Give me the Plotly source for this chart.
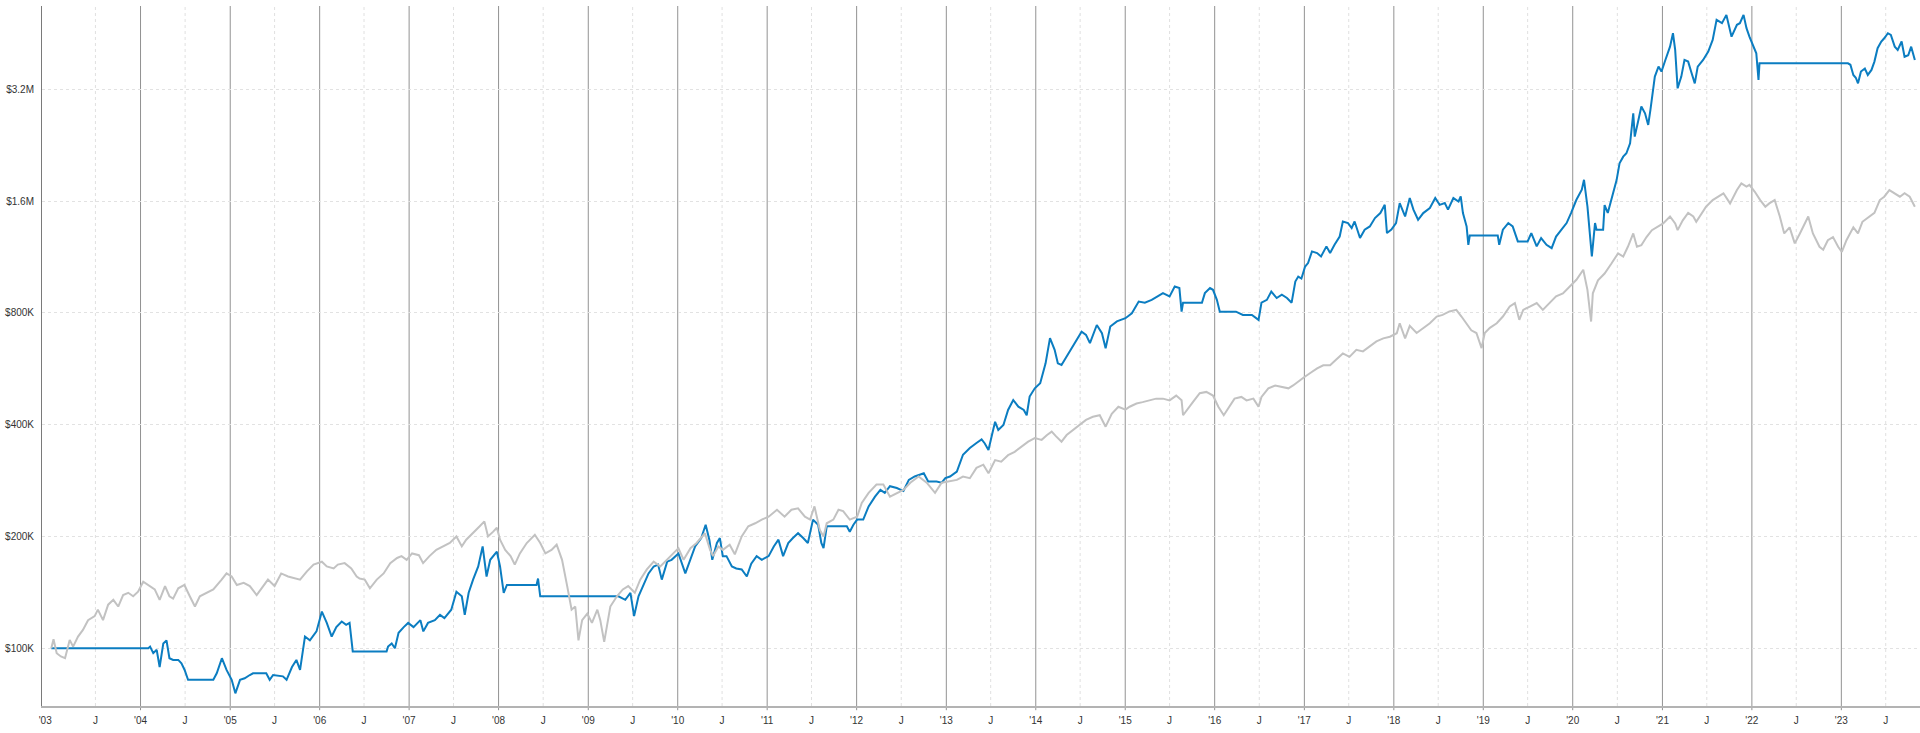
import plotly.graph_objects as go

# ---------------- data (values in thousands of dollars) ----------------
bench_dates = [
"2003-01-02","2003-01-11","2003-01-24","2003-02-10","2003-02-27","2003-03-18","2003-04-01","2003-04-21","2003-05-11","2003-06-01",
"2003-06-28","2003-07-11","2003-08-01","2003-08-22","2003-09-12","2003-10-02","2003-10-22","2003-11-12","2003-12-02","2003-12-22",
"2004-01-12","2004-02-10","2004-02-28","2004-03-19","2004-04-10","2004-04-28","2004-05-13","2004-06-03","2004-06-28","2004-07-20",
"2004-08-10","2004-08-30","2004-09-27","2004-10-24","2004-11-27","2004-12-17","2005-01-07","2005-01-28","2005-02-25","2005-03-22",
"2005-04-19","2005-05-14","2005-06-04","2005-07-01","2005-07-28","2005-08-25","2005-09-22","2005-10-13","2005-11-10","2005-12-07",
"2006-01-10","2006-01-30","2006-02-27","2006-03-16","2006-04-13","2006-05-10","2006-06-01","2006-06-13","2006-07-04","2006-07-25",
"2006-08-22","2006-09-19","2006-10-16","2006-11-13","2006-12-01","2006-12-22","2007-01-13","2007-02-10","2007-02-27","2007-03-25",
"2007-04-22","2007-05-19","2007-06-16","2007-07-13","2007-08-04","2007-08-22","2007-09-19","2007-10-16","2007-11-04","2007-11-19",
"2007-12-10","2007-12-25","2008-01-07","2008-01-28","2008-02-19","2008-03-07","2008-03-28","2008-04-25","2008-05-28","2008-06-19",
"2008-07-10","2008-08-04","2008-08-25","2008-09-16","2008-10-07","2008-10-25","2008-11-09","2008-11-22","2008-12-07","2008-12-28",
"2009-01-16","2009-02-07","2009-02-19","2009-03-07","2009-04-01","2009-04-28","2009-05-22","2009-06-13","2009-07-10","2009-08-01",
"2009-08-28","2009-09-25","2009-10-22","2009-11-19","2009-12-16","2010-01-04","2010-01-25","2010-02-22","2010-03-19","2010-04-22",
"2010-05-13","2010-05-25","2010-06-16","2010-07-04","2010-08-01","2010-08-22","2010-09-19","2010-10-16","2010-11-13","2010-12-10",
"2011-01-07","2011-02-10","2011-03-13","2011-04-10","2011-05-07","2011-06-04","2011-06-25","2011-07-13","2011-08-04","2011-08-19",
"2011-09-01","2011-09-28","2011-10-19","2011-11-07","2011-12-04","2012-01-03","2012-01-22","2012-02-19","2012-03-22","2012-04-19",
"2012-05-16","2012-06-13","2012-07-10","2012-08-07","2012-09-10","2012-10-13","2012-11-16","2012-12-13","2013-01-10","2013-02-13",
"2013-03-10","2013-04-07","2013-05-04","2013-06-01","2013-06-22","2013-07-19","2013-08-13","2013-09-10","2013-10-07","2013-11-04",
"2013-12-01","2013-12-28","2014-01-25","2014-02-16","2014-03-07","2014-03-25","2014-04-16","2014-05-07","2014-06-04","2014-07-01",
"2014-07-25","2014-08-22","2014-09-19","2014-10-13","2014-11-07","2014-12-04","2015-01-02","2015-01-19","2015-02-16","2015-03-13",
"2015-04-10","2015-05-07","2015-06-04","2015-07-01","2015-07-28","2015-08-19","2015-08-25","2015-09-16","2015-10-04","2015-11-01",
"2015-11-28","2015-12-25","2016-01-16","2016-02-07","2016-02-25","2016-03-22","2016-04-19","2016-05-10","2016-06-07","2016-06-28",
"2016-07-10","2016-08-07","2016-09-04","2016-10-01","2016-10-28","2016-11-16","2016-12-07","2016-12-28","2017-01-25","2017-02-22",
"2017-03-19","2017-04-16","2017-05-10","2017-06-07","2017-07-04","2017-08-01","2017-08-28","2017-09-25","2017-10-22","2017-11-19",
"2017-12-16","2018-01-13","2018-01-25","2018-02-16","2018-03-07","2018-04-04","2018-05-01","2018-05-28","2018-06-25","2018-07-19",
"2018-08-16","2018-09-13","2018-10-04","2018-10-25","2018-11-13","2018-12-04","2018-12-25","2019-01-07","2019-01-28","2019-02-25",
"2019-03-22","2019-04-19","2019-05-10","2019-05-28","2019-06-13","2019-07-10","2019-08-07","2019-09-01","2019-09-28","2019-10-25",
"2019-11-22","2019-12-19","2020-01-16","2020-02-13","2020-03-01","2020-03-16","2020-03-23","2020-04-13","2020-05-10","2020-06-07",
"2020-07-04","2020-07-25","2020-08-13","2020-09-04","2020-09-19","2020-10-07","2020-10-28","2020-11-19","2020-12-07","2021-01-04",
"2021-02-01","2021-02-22","2021-03-04","2021-03-25","2021-04-16","2021-05-07","2021-05-19","2021-06-10","2021-06-28","2021-07-25",
"2021-08-16","2021-09-07","2021-10-04","2021-11-01","2021-11-19","2021-12-10","2021-12-22","2022-01-13","2022-02-04","2022-02-25",
"2022-03-13","2022-04-04","2022-04-25","2022-05-13","2022-06-04","2022-06-25","2022-07-16","2022-08-04","2022-08-19","2022-09-07",
"2022-10-04","2022-10-19","2022-11-07","2022-11-28","2022-12-19","2023-01-03","2023-01-22","2023-02-19","2023-03-10","2023-03-28",
"2023-04-25","2023-05-16","2023-06-07","2023-06-25","2023-07-16","2023-08-07","2023-08-28","2023-09-16","2023-10-07","2023-10-28",
]
bench_k = [
100,105.7,96.9,95,94,105.3,101,107.5,112,119,
122,127,119,131,135,129.5,139,141,138,142,
151,147,144,135,147,138,136,145,148,138,
129.5,138,141,144,153,159,156,148,150,147,
139,147,153,147,159,156,154.5,153,161,168,
171,166,164,168,169.5,164,156,154,153,145,
153,159,169.5,175,177,173,180,178,169.5,177,
184,188,192,200,188,196,204,213,219.5,200,
206,211,196,184,177,168,180,192,202,192,
180,184,190,173,147,127,129.5,105,119,124,
117,127,119,104,129.5,138,144,147,141,153,
163,171,166,173,180,186,173,186,192,204,
184,177,188,184,190,179,200,213,217,222,
226,236,226,236,238,226,222,241,208,200,
217,222,236,234,222,226,246,262,276,276,
256,262,267,279,290,279,262,279,281,284,
290,287,306,312,296,321,318,331,338,349,
360,368,364,375,383,372,360,375,387,399,
412,420,424,395,428,447,439,447,456,460,
465,470,470,465,479,465,424,442,460,486,
490,479,447,424,442,470,475,465,470,447,
475,501,510,505,501,510,521,535,551,567,
578,578,598,622,609,636,630,649,670,683,
690,705,750,683,738,706,729,750,782,790,
807,815,782,750,718,706,643,706,729,750,
782,832,850,766,815,832,850,815,850,886,
902,942,982,1045,923,758,903,979,1021,1086,
1157,1134,1205,1309,1205,1217,1280,1336,1359,1393,
1454,1393,1336,1420,1487,1454,1407,1487,1545,1610,
1644,1679,1577,1713,1786,1750,1769,1695,1610,1545,
1577,1610,1454,1309,1359,1231,1309,1393,1454,1309,
1205,1183,1255,1280,1205,1168,1255,1359,1309,1407,
1454,1487,1610,1644,1713,1679,1644,1679,1644,1545,
]

strat_dates = [
"2003-01-02","2004-02-02","2004-02-09","2004-02-22","2004-03-07","2004-03-19","2004-04-03","2004-04-16","2004-04-28","2004-05-13",
"2004-06-03","2004-06-16","2004-06-29","2004-07-13","2004-10-24","2004-11-07","2004-11-28","2004-12-17","2005-01-07","2005-01-22",
"2005-02-10","2005-03-01","2005-03-22","2005-04-04","2005-05-28","2005-06-11","2005-06-25","2005-08-04","2005-08-19","2005-09-10",
"2005-09-28","2005-10-13","2005-11-02","2005-11-22","2005-12-19","2006-01-10","2006-01-30","2006-02-19","2006-03-10","2006-04-01",
"2006-04-19","2006-05-03","2006-05-16","2006-10-01","2006-10-07","2006-10-22","2006-11-04","2006-11-19","2006-12-10","2006-12-28",
"2007-01-19","2007-02-16","2007-02-28","2007-03-19","2007-04-16","2007-05-07","2007-05-25","2007-06-22","2007-07-13","2007-08-04",
"2007-08-16","2007-09-01","2007-09-19","2007-10-10","2007-10-28","2007-11-13","2007-11-28","2007-12-10","2007-12-25","2008-01-07",
"2008-01-22","2008-02-04","2008-06-04","2008-06-10","2008-06-16","2008-06-19","2009-05-04","2009-06-01","2009-06-22","2009-07-07",
"2009-07-25","2009-08-13","2009-09-04","2009-09-25","2009-10-13","2009-10-28","2009-11-19","2009-12-07","2009-12-28","2010-01-04",
"2010-02-01","2010-02-22","2010-03-13","2010-04-07","2010-04-25","2010-05-10","2010-05-22","2010-06-10","2010-06-22","2010-07-04",
"2010-07-19","2010-08-10","2010-08-28","2010-09-19","2010-10-10","2010-10-28","2010-11-19","2010-12-10","2011-01-07","2011-01-28",
"2011-02-16","2011-03-07","2011-03-28","2011-04-16","2011-05-07","2011-05-28","2011-06-16","2011-07-07","2011-07-28","2011-08-10",
"2011-08-19","2011-09-01","2011-11-22","2011-12-04","2011-12-19","2012-01-03","2012-01-28","2012-02-19","2012-03-16","2012-04-07",
"2012-04-25","2012-05-16","2012-06-13","2012-07-10","2012-08-01","2012-08-25","2012-10-01","2012-10-19","2012-11-22","2012-12-13",
"2012-12-28","2013-01-16","2013-02-13","2013-03-10","2013-04-07","2013-05-04","2013-05-25","2013-06-07","2013-06-22","2013-07-04",
"2013-07-19","2013-08-01","2013-08-22","2013-09-10","2013-10-01","2013-10-22","2013-11-13","2013-11-25","2013-12-07","2013-12-28",
"2014-01-19","2014-02-10","2014-02-28","2014-03-19","2014-04-01","2014-04-16","2014-05-07","2014-05-25","2014-06-16","2014-07-07",
"2014-07-25","2014-08-10","2014-09-07","2014-09-28","2014-10-13","2014-11-01","2014-11-28","2015-01-02","2015-01-28","2015-02-25",
"2015-03-22","2015-04-19","2015-05-13","2015-06-04","2015-07-01","2015-07-22","2015-08-10","2015-08-19","2015-08-25","2015-11-10",
"2015-11-22","2015-12-13","2015-12-25","2016-01-10","2016-01-22","2016-03-28","2016-04-25","2016-06-01","2016-06-28","2016-07-10",
"2016-08-01","2016-08-19","2016-09-10","2016-10-01","2016-10-22","2016-11-10","2016-11-25","2016-12-07","2016-12-20","2017-01-04",
"2017-01-16","2017-02-01","2017-02-22","2017-03-10","2017-04-01","2017-04-16","2017-05-04","2017-05-25","2017-06-07","2017-06-28",
"2017-07-13","2017-07-25","2017-08-16","2017-09-04","2017-09-25","2017-10-16","2017-11-07","2017-11-25","2017-12-04","2017-12-22",
"2018-01-10","2018-01-25","2018-02-16","2018-03-07","2018-03-22","2018-04-10","2018-05-01","2018-05-28","2018-06-19","2018-07-07",
"2018-07-28","2018-08-10","2018-09-01","2018-09-22","2018-10-01","2018-10-10","2018-10-25","2018-11-01","2018-11-07","2019-03-01",
"2019-03-07","2019-03-22","2019-04-13","2019-05-01","2019-05-22","2019-07-01","2019-07-16","2019-08-07","2019-08-25","2019-09-16",
"2019-10-07","2019-10-25","2019-11-16","2019-12-07","2019-12-25","2020-01-16","2020-02-07","2020-02-16","2020-03-01","2020-03-10",
"2020-03-19","2020-04-01","2020-04-07","2020-05-04","2020-05-10","2020-05-23","2020-06-07","2020-06-28","2020-07-10","2020-07-25",
"2020-08-07","2020-08-22","2020-09-04","2020-09-10","2020-09-25","2020-10-07","2020-10-22","2020-11-04","2020-11-13","2020-12-01",
"2020-12-16","2020-12-28","2021-01-13","2021-02-01","2021-02-13","2021-02-22","2021-03-04","2021-03-19","2021-04-01","2021-04-16",
"2021-04-28","2021-05-13","2021-05-25","2021-06-16","2021-07-07","2021-07-25","2021-08-10","2021-09-01","2021-09-19","2021-10-10",
"2021-11-01","2021-11-13","2021-11-28","2021-12-10","2021-12-22","2022-01-07","2022-01-19","2022-01-28","2022-02-01","2023-01-28",
"2023-02-07","2023-02-19","2023-03-01","2023-03-10","2023-03-22","2023-04-07","2023-04-19","2023-05-04","2023-05-16","2023-05-29",
"2023-06-13","2023-06-25","2023-07-10","2023-07-22","2023-08-07","2023-08-19","2023-09-04","2023-09-16","2023-10-01","2023-10-13",
"2023-10-28",
]
strat_k = [
100,100,101,97,99,89,103,105,94,93,
93,91,87.4,82.2,82.2,85.6,94,87.4,82.2,75.6,
82.2,83,84.7,85.6,85.6,82.2,84.7,84,82.2,89,
93,87.4,107.5,105,111,125.5,117,107.5,114,118,
115.6,117,98,98,101,103,100,110,114,117,
114,119,111,117,119,123,120.5,127,142,138,
123,141,153,166,188,156,173,177,182,166,
141,148,148,154,141,138,138,135,141,122,
138,147,159,166,168,153,171,173,178,180,
159,173,188,198,215,196,173,192,198,177,
177,166,164,163,156,169,177,173,177,188,
196,177,192,198,204,198,192,222,215,192,
186,213,213,206,215,222,222,241,256,267,
262,273,270,265,284,290,296,281,281,279,
287,290,299,332,346,357,365,356,342,370,
407,387,399,438,466,447,438,424,476,501,
517,585,684,636,585,579,610,636,677,712,
698,663,742,705,642,735,759,774,798,858,
852,867,886,904,886,942,933,806,852,852,
904,933,923,867,806,806,790,790,766,852,
867,913,877,895,877,852,971,1002,990,1066,
1089,1171,1159,1135,1208,1159,1220,1284,1410,1396,
1354,1410,1272,1340,1367,1440,1485,1563,1312,1340,
1396,1580,1455,1630,1517,1425,1485,1532,1630,1563,
1580,1517,1630,1596,1646,1485,1367,1220,1293,1293,
1220,1340,1396,1367,1246,1246,1312,1208,1272,1220,
1195,1284,1340,1396,1485,1613,1717,1826,1549,1340,
1135,1396,1340,1340,1560,1486,1610,1822,2021,2107,
2152,2288,2757,2386,2645,2875,2757,2565,2815,3462,
3683,3571,3838,4168,4531,4084,3219,3462,3838,3799,
3571,3320,3683,3838,4043,4347,4923,4821,5075,4434,
4773,4821,5075,4675,4434,4168,4000,3390,3758,3758,
3725,3497,3437,3320,3571,3640,3497,3608,3799,4128,
4303,4390,4531,4485,4168,4084,4303,3915,3952,4168,
3838,
]

y_tick_vals = [100000, 200000, 400000, 800000, 1600000, 3200000]
y_tick_text = ["$100K", "$200K", "$400K", "$800K", "$1.6M", "$3.2M"]
years = list(range(2003, 2024))

assert len(bench_dates) == len(bench_k), (len(bench_dates), len(bench_k))
assert len(strat_dates) == len(strat_k), (len(strat_dates), len(strat_k))

bench_vals = [v * 1000 for v in bench_k]
strat_vals = [v * 1000 for v in strat_k]

# x ticks: first year label sits at the left edge of the axis
x_tick_vals, x_tick_text = [], []
for y in years:
    x_tick_vals.append("2002-12-08" if y == 2003 else f"{y}-01-01")
    x_tick_text.append("'" + str(y)[2:])
    x_tick_vals.append(f"{y}-07-01")
    x_tick_text.append("J")

FONT = "Arial, 'Liberation Sans', sans-serif"
BLUE = "#0b7dc1"
GREY = "#c2c2c2"

fig = go.Figure()
fig.add_trace(go.Scatter(x=strat_dates, y=strat_vals, mode="lines",
                         line=dict(color=BLUE, width=2), name="Strategy"))
fig.add_trace(go.Scatter(x=bench_dates, y=bench_vals, mode="lines",
                         line=dict(color=GREY, width=2), name="Benchmark"))

shapes = []
for y in years:
    if y > 2003:
        shapes.append(dict(type="line", xref="x", yref="paper",
                           x0=f"{y}-01-01", x1=f"{y}-01-01", y0=-0.006, y1=1,
                           line=dict(color="#929292", width=1), layer="below"))
    shapes.append(dict(type="line", xref="x", yref="paper",
                       x0=f"{y}-07-01", x1=f"{y}-07-01", y0=0, y1=1,
                       line=dict(color="#e0e0e0", width=1, dash="dot"), layer="below"))

fig.update_layout(
    width=1920, height=733,
    margin=dict(l=42, r=0, t=6, b=27),
    paper_bgcolor="white", plot_bgcolor="white",
    showlegend=False,
    font=dict(family=FONT, size=10, color="#333333"),
    shapes=shapes,
    xaxis=dict(
        type="date",
        range=["2002-11-25", "2023-11-18"],
        tickmode="array", tickvals=x_tick_vals, ticktext=x_tick_text,
        showgrid=False, zeroline=False,
        showline=True, linecolor="#b3b3b3", linewidth=2,
        ticks="", ticklabelstandoff=4,
        tickfont=dict(family=FONT, size=10, color="#333333"),
    ),
    yaxis=dict(
        type="log",
        range=[4.8444, 6.7294],
        tickmode="array", tickvals=y_tick_vals, ticktext=y_tick_text,
        showgrid=True, gridcolor="#e2e2e2", griddash="dot", gridwidth=1,
        zeroline=False,
        showline=True, linecolor="#7a7a7a", linewidth=1,
        ticks="", ticklabelstandoff=5,
        tickfont=dict(family=FONT, size=10, color="#333333"),
    ),
)

fig.write_html("out.html",
               config={"displayModeBar": False},
               post_script="document.body.style.margin='0';document.body.style.overflow='hidden';")
